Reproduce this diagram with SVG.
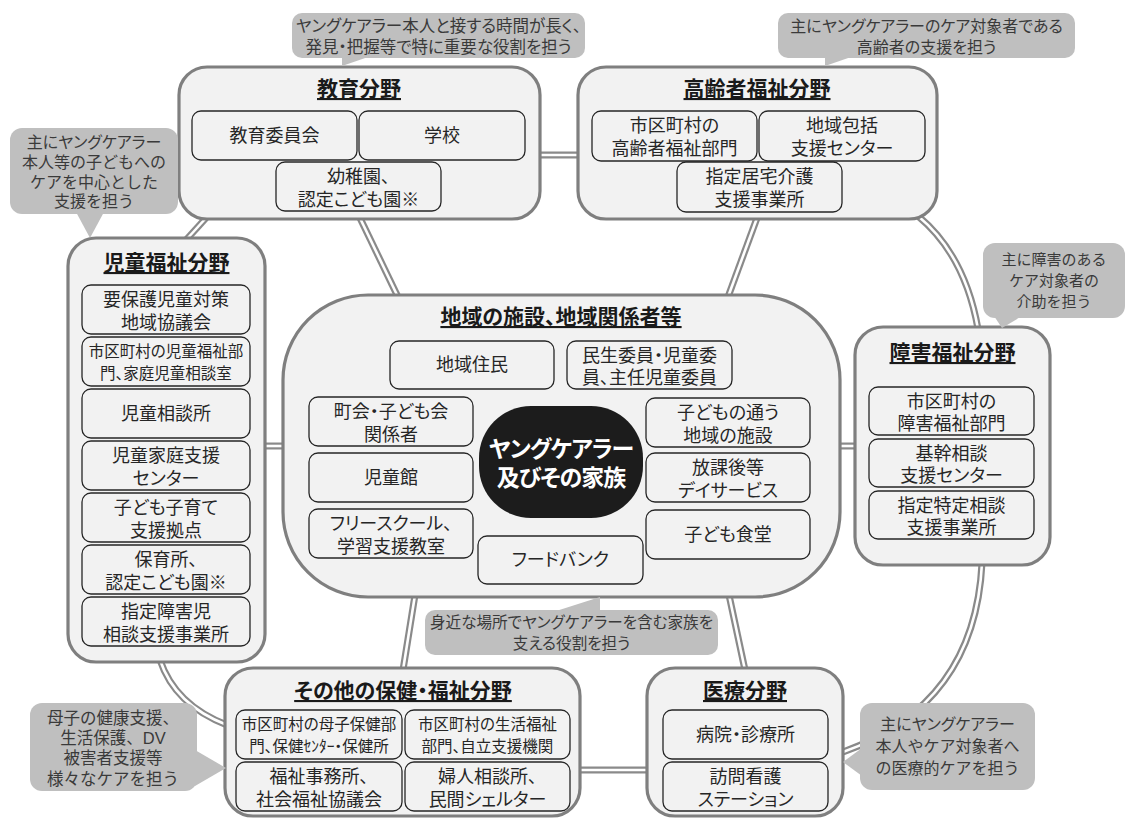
<svg xmlns="http://www.w3.org/2000/svg" xmlns:xlink="http://www.w3.org/1999/xlink" width="1136" height="818" viewBox="0 0 1136 818">
<style>
.node{fill:#f2f2f2;stroke:#7f7f7f;stroke-width:3.2}
.item{fill:#f2f2f2;stroke:#262626;stroke-width:1.3}
.callout{fill:#bfbfbf}
.wo{fill:none;stroke:#8a8a8a;stroke-width:7}
.wi{fill:none;stroke:#ffffff;stroke-width:2.6}
text{font-family:"Liberation Sans","Noto Sans CJK JP",sans-serif;text-anchor:middle;font-feature-settings:"palt"}
.t{font-size:18px;fill:#262626}
.s{font-size:15.5px;fill:#262626}
.h{font-size:21px;font-weight:bold;fill:#1a1a1a;text-decoration:underline}
.c{font-size:16.5px;fill:#3a3a3a}
.cs{font-size:16px;fill:#3a3a3a;font-feature-settings:normal}
.p{font-feature-settings:"palt"}
.w{font-size:23px;font-weight:bold;fill:#ffffff;letter-spacing:-1px}
</style>
<defs>
<path id="c1" d="M540,155 H578"/>
<path id="c2" d="M206,218 L186,240"/>
<path id="c3" d="M360,218 L398,297"/>
<path id="c4" d="M757,218 L728,297"/>
<path id="c5" d="M918,216 Q965,255 978,329"/>
<path id="c6" d="M265,446 H284"/>
<path id="c7" d="M838,446 H856"/>
<path id="c8" d="M982,563 Q975,705 843,752"/>
<path id="c9" d="M160,660 Q175,705 227,725"/>
<path id="c10" d="M415,595 L403,670"/>
<path id="c11" d="M729,595 L745,670"/>
<path id="c12" d="M579,770 H649"/>
</defs>
<g id="connectors">
<use xlink:href="#c1" class="wo"/><use xlink:href="#c1" class="wi"/>
<use xlink:href="#c2" class="wo"/><use xlink:href="#c2" class="wi"/>
<use xlink:href="#c3" class="wo"/><use xlink:href="#c3" class="wi"/>
<use xlink:href="#c4" class="wo"/><use xlink:href="#c4" class="wi"/>
<use xlink:href="#c5" class="wo"/><use xlink:href="#c5" class="wi"/>
<use xlink:href="#c6" class="wo"/><use xlink:href="#c6" class="wi"/>
<use xlink:href="#c7" class="wo"/><use xlink:href="#c7" class="wi"/>
<use xlink:href="#c8" class="wo"/><use xlink:href="#c8" class="wi"/>
<use xlink:href="#c9" class="wo"/><use xlink:href="#c9" class="wi"/>
<use xlink:href="#c10" class="wo"/><use xlink:href="#c10" class="wi"/>
<use xlink:href="#c11" class="wo"/><use xlink:href="#c11" class="wi"/>
<use xlink:href="#c12" class="wo"/><use xlink:href="#c12" class="wi"/>
</g>

<g id="education">
<rect class="node" x="179" y="67" width="361" height="152" rx="28"/>
<text class="h" x="359" y="96">教育分野</text>
<rect class="item" x="192" y="111" width="165" height="49" rx="9"/>
<text class="t" x="274.5" y="142">教育委員会</text>
<rect class="item" x="359" y="111" width="166" height="49" rx="9"/>
<text class="t" x="442" y="142">学校</text>
<rect class="item" x="276" y="162" width="165" height="49" rx="9"/>
<text class="t" x="358.5" y="183">幼稚園、<tspan x="358.5" dy="23">認定こども園※</tspan></text>
</g>

<g id="elderly">
<rect class="node" x="578" y="67" width="359" height="152" rx="28"/>
<text class="h" x="757" y="96">高齢者福祉分野</text>
<rect class="item" x="592" y="111" width="165" height="50" rx="9"/>
<text class="t" x="674.5" y="132">市区町村の<tspan x="674.5" dy="23">高齢者福祉部門</tspan></text>
<rect class="item" x="759" y="111" width="166" height="50" rx="9"/>
<text class="t" x="842" y="132">地域包括<tspan x="842" dy="23">支援センター</tspan></text>
<rect class="item" x="677" y="162" width="165" height="50" rx="9"/>
<text class="t" x="759.5" y="183">指定居宅介護<tspan x="759.5" dy="23">支援事業所</tspan></text>
</g>

<g id="child">
<rect class="node" x="68" y="238" width="197" height="424" rx="28"/>
<text class="h" x="166.5" y="270">児童福祉分野</text>
<rect class="item" x="82" y="285" width="168" height="49" rx="9"/>
<text class="t" x="166" y="306">要保護児童対策<tspan x="166" dy="23">地域協議会</tspan></text>
<rect class="item" x="82" y="337" width="168" height="49" rx="9"/>
<text class="s" x="166" y="357">市区町村の児童福祉部<tspan x="166" dy="22">門、家庭児童相談室</tspan></text>
<rect class="item" x="82" y="389" width="168" height="49" rx="9"/>
<text class="t" x="166" y="420">児童相談所</text>
<rect class="item" x="82" y="441" width="168" height="49" rx="9"/>
<text class="t" x="166" y="462">児童家庭支援<tspan x="166" dy="23">センター</tspan></text>
<rect class="item" x="82" y="493" width="168" height="49" rx="9"/>
<text class="t" x="166" y="514">子ども子育て<tspan x="166" dy="23">支援拠点</tspan></text>
<rect class="item" x="82" y="545" width="168" height="49" rx="9"/>
<text class="t" x="166" y="566">保育所、<tspan x="166" dy="23">認定こども園※</tspan></text>
<rect class="item" x="82" y="597" width="168" height="49" rx="9"/>
<text class="t" x="166" y="618">指定障害児<tspan x="166" dy="23">相談支援事業所</tspan></text>
</g>

<g id="disability">
<rect class="node" x="855" y="327" width="195" height="238" rx="28"/>
<text class="h" x="952.5" y="360">障害福祉分野</text>
<rect class="item" x="869" y="387" width="165" height="48" rx="9"/>
<text class="t" x="951.5" y="408">市区町村の<tspan x="951.5" dy="22">障害福祉部門</tspan></text>
<rect class="item" x="869" y="439" width="165" height="48" rx="9"/>
<text class="t" x="951.5" y="460">基幹相談<tspan x="951.5" dy="22">支援センター</tspan></text>
<rect class="item" x="869" y="491" width="165" height="48" rx="9"/>
<text class="t" x="951.5" y="512">指定特定相談<tspan x="951.5" dy="22">支援事業所</tspan></text>
</g>

<g id="community">
<rect class="node" x="283" y="295" width="557" height="302" rx="85"/>
<text class="h" x="561" y="324">地域の施設、地域関係者等</text>
<rect class="item" x="390" y="341" width="164" height="48" rx="9"/>
<text class="t" x="472" y="371">地域住民</text>
<rect class="item" x="567" y="341" width="165" height="48" rx="9"/>
<text class="t" x="649.5" y="362">民生委員・児童委<tspan x="649.5" dy="22">員、主任児童委員</tspan></text>
<rect class="item" x="309" y="397" width="164" height="49" rx="9"/>
<text class="t" x="391" y="418">町会・子ども会<tspan x="391" dy="23">関係者</tspan></text>
<rect class="item" x="309" y="453" width="164" height="49" rx="9"/>
<text class="t" x="391" y="484">児童館</text>
<rect class="item" x="309" y="509" width="164" height="49" rx="9"/>
<text class="t" x="391" y="530">フリースクール、<tspan x="391" dy="23">学習支援教室</tspan></text>
<rect class="item" x="646" y="398" width="164" height="49" rx="9"/>
<text class="t" x="728" y="419">子どもの通う<tspan x="728" dy="23">地域の施設</tspan></text>
<rect class="item" x="646" y="453" width="164" height="49" rx="9"/>
<text class="t" x="728" y="474">放課後等<tspan x="728" dy="23">デイサービス</tspan></text>
<rect class="item" x="646" y="510" width="164" height="49" rx="9"/>
<text class="t" x="728" y="541">子ども食堂</text>
<rect class="item" x="478" y="536" width="165" height="48" rx="9"/>
<text class="t" x="560.5" y="566">フードバンク</text>
</g>

<g id="center">
<rect x="479" y="406" width="164" height="112" rx="52" fill="#1c1c1c"/>
<text class="w" x="561" y="457">ヤングケアラー<tspan x="561" dy="29">及びその家族</tspan></text>
</g>

<g id="other">
<rect class="node" x="225" y="668" width="355" height="148" rx="28"/>
<text class="h" x="403" y="698">その他の保健・福祉分野</text>
<rect class="item" x="236" y="710" width="166" height="49" rx="9"/>
<text class="s" x="319" y="730">市区町村の母子保健部<tspan x="319" dy="22">門、保健ｾﾝﾀｰ・保健所</tspan></text>
<rect class="item" x="405" y="710" width="165" height="49" rx="9"/>
<text class="s" x="487.5" y="730">市区町村の生活福祉<tspan x="487.5" dy="22">部門、自立支援機関</tspan></text>
<rect class="item" x="236" y="762" width="166" height="49" rx="9"/>
<text class="t" x="319" y="783">福祉事務所、<tspan x="319" dy="23">社会福祉協議会</tspan></text>
<rect class="item" x="405" y="762" width="165" height="49" rx="9"/>
<text class="t" x="487.5" y="783">婦人相談所、<tspan x="487.5" dy="23">民間シェルター</tspan></text>
</g>

<g id="medical">
<rect class="node" x="647" y="668" width="196" height="148" rx="28"/>
<text class="h" x="745" y="698">医療分野</text>
<rect class="item" x="663" y="710" width="165" height="49" rx="9"/>
<text class="t" x="745.5" y="741">病院・診療所</text>
<rect class="item" x="663" y="762" width="165" height="49" rx="9"/>
<text class="t" x="745.5" y="783">訪問看護<tspan x="745.5" dy="23">ステーション</tspan></text>
</g>

<g id="callout-education">
<rect class="callout" x="292" y="13" width="293" height="45" rx="10"/>
<polygon class="callout" points="342,56 371,56 342,66"/>
<text class="c" x="438.5" y="32">ヤングケアラー本人と接する時間が長く、<tspan x="438.5" dy="21">発見・把握等で特に重要な役割を担う</tspan></text>
</g>

<g id="callout-elderly">
<rect class="callout" x="778" y="13" width="297" height="45" rx="10"/>
<polygon class="callout" points="825,56 854,56 825,66"/>
<text class="c" x="926.5" y="32" style="font-size:16px">主にヤングケアラーのケア対象者である<tspan x="926.5" dy="21">高齢者の支援を担う</tspan></text>
</g>

<g id="callout-child">
<rect class="callout" x="10" y="128" width="168" height="86" rx="12"/>
<polygon class="callout" points="76,212 104,212 90,238"/>
<text class="cs" x="94" y="148"><tspan class="p">主にヤングケアラー</tspan><tspan x="94" dy="20">本人等の子どもへの</tspan><tspan x="94" dy="20">ケアを中心とした</tspan><tspan x="94" dy="19">支援を担う</tspan></text>
</g>

<g id="callout-disability">
<rect class="callout" x="983" y="243" width="142" height="75" rx="12"/>
<polygon class="callout" points="994,316 1022,316 1002,328"/>
<text class="cs" x="1054" y="265" style="font-size:15px">主に障害のある<tspan x="1054" dy="21">ケア対象者の</tspan><tspan x="1054" dy="21">介助を担う</tspan></text>
</g>

<g id="callout-community">
<rect class="callout" x="425" y="610" width="293" height="45" rx="10"/>
<polygon class="callout" points="553,612 600,612 600,597"/>
<text class="c" x="571.5" y="628" style="font-size:15.6px">身近な場所でヤングケアラーを含む家族を<tspan x="571.5" dy="21">支える役割を担う</tspan></text>
</g>

<g id="callout-other">
<rect class="callout" x="30" y="703" width="167" height="88" rx="12"/>
<polygon class="callout" points="195,750 195,786 226,768"/>
<text class="cs" x="113" y="724" style="font-size:16.5px">母子の健康支援、<tspan x="113" dy="20">生活保護、DV</tspan><tspan x="113" dy="20">被害者支援等</tspan><tspan x="113" dy="21">様々なケアを担う</tspan></text>
</g>

<g id="callout-medical">
<rect class="callout" x="860" y="703" width="175" height="87" rx="12"/>
<polygon class="callout" points="862,748 862,776 843,762"/>
<text class="cs" x="947.5" y="730"><tspan class="p">主にヤングケアラー</tspan><tspan x="947.5" dy="22">本人やケア対象者へ</tspan><tspan x="947.5" dy="22">の医療的ケアを担う</tspan></text>
</g>
</svg>
